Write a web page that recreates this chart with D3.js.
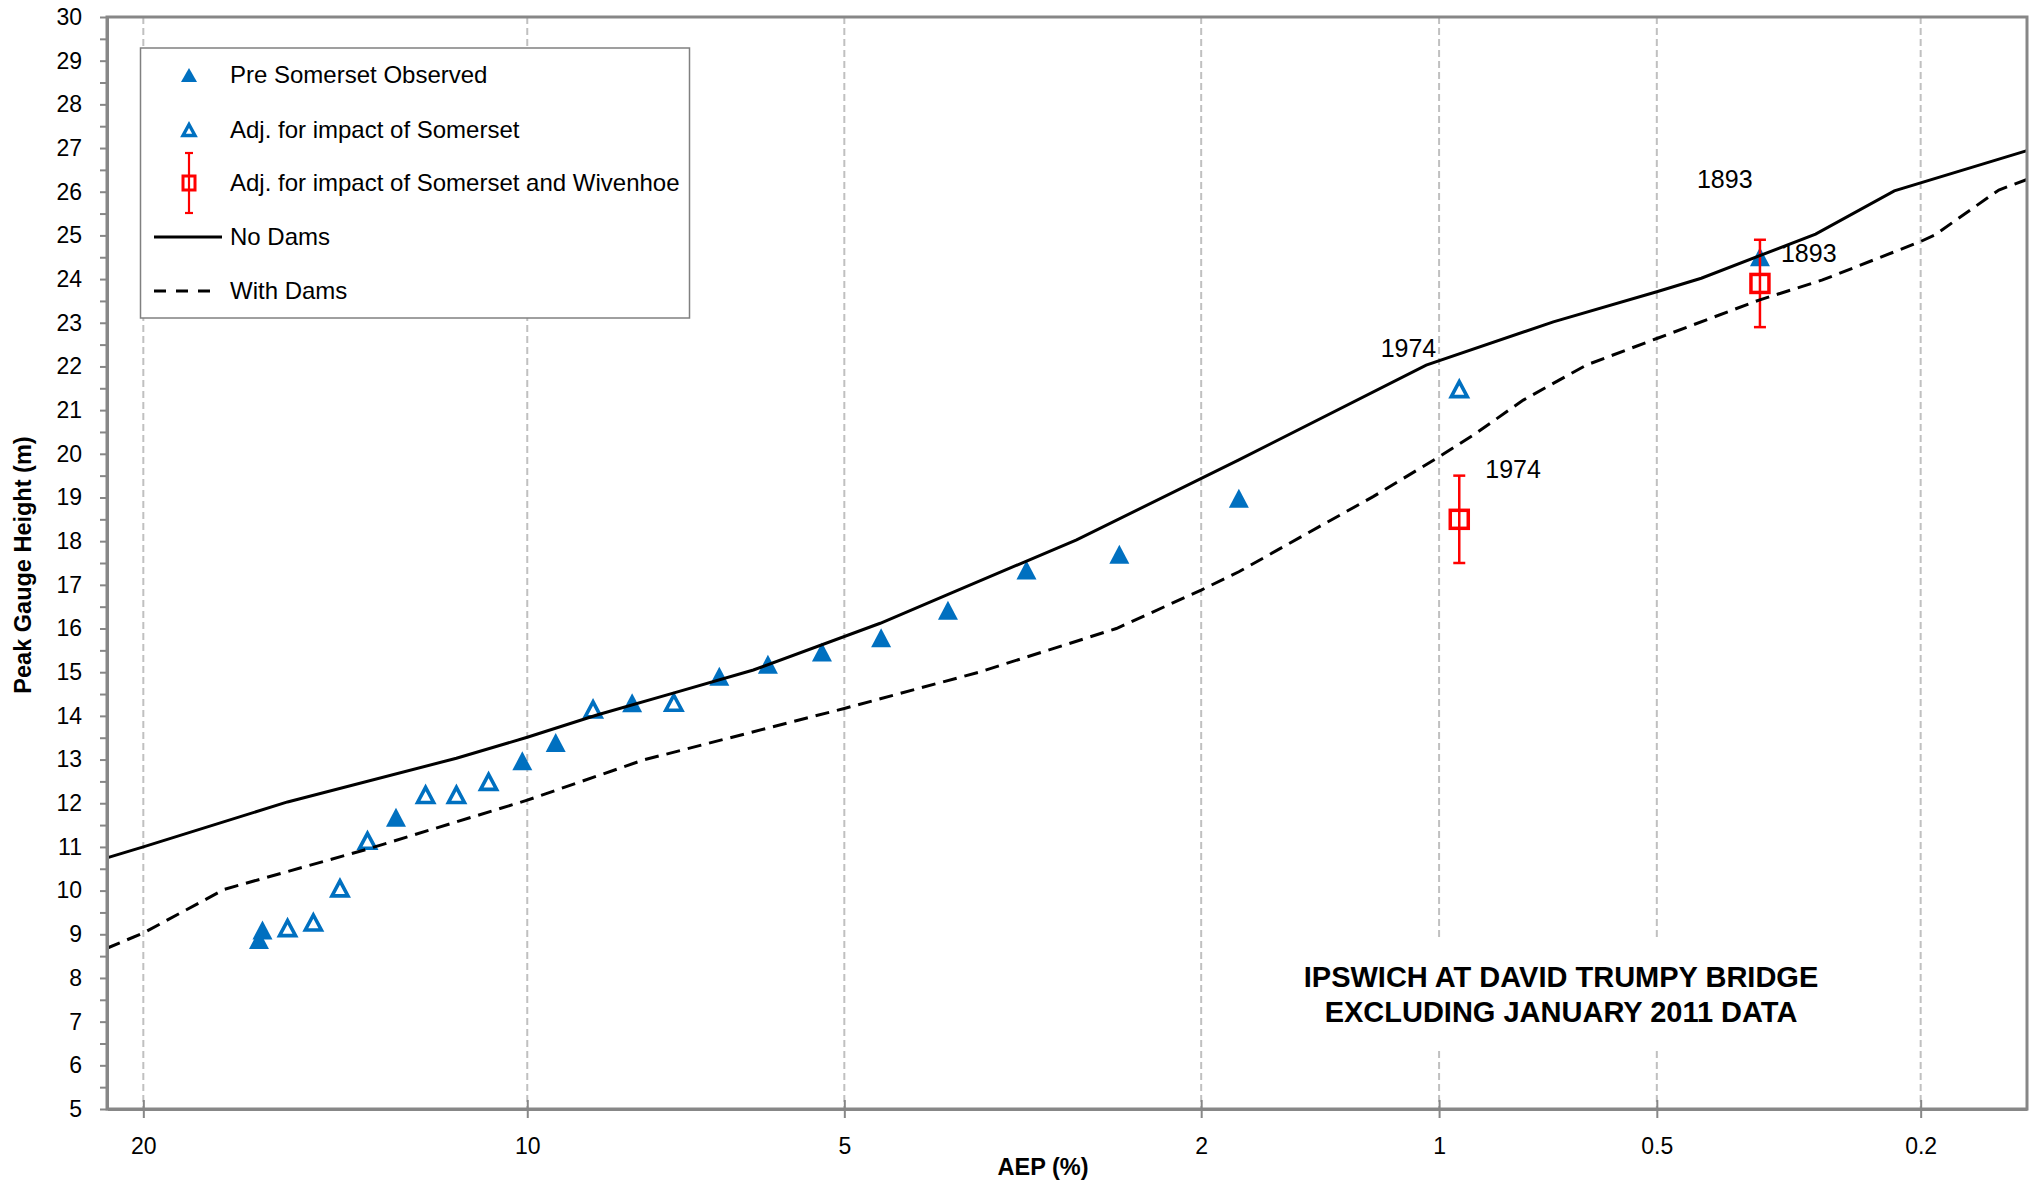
<!DOCTYPE html>
<html>
<head>
<meta charset="utf-8">
<script src="https://cdn.jsdelivr.net/npm/d3@7"></script>
<style>
  body { margin: 0; background: #fff; }
  svg { display: block; font-family: "Liberation Sans", Arial, sans-serif; }
</style>
</head>
<body>
<svg id="chart" width="2040" height="1186"></svg>
<script>
// ---------------- data (AEP in %, height in m)
const noDamsAep    = [21.19, 20, 15.7, 11.5, 10, 8.67, 7.37, 6.17, 4.59, 3.9, 2.8, 1.8, 1.04, 0.7, 0.5, 0.431, 0.291, 0.22, 0.135];
const noDamsHeight = [10.75, 11.0, 12.03, 13.03, 13.51, 14.02, 14.52, 15.05, 16.12, 16.77, 18.03, 19.86, 22.03, 23.02, 23.71, 24.02, 25.03, 26.02, 26.94];

const withDamsAep    = [21.19, 20, 17.5, 13.6, 10, 7.86, 5, 3.6, 2.52, 2.0, 1.8, 1.48, 1.22, 1.0, 0.9, 0.77, 0.63, 0.5, 0.354, 0.284, 0.2, 0.19, 0.15, 0.135];
const withDamsHeight = [8.68, 9.03, 10.03, 10.95, 12.07, 12.99, 14.17, 15.0, 16.0, 16.88, 17.3, 18.18, 19.02, 19.93, 20.43, 21.23, 22.03, 22.64, 23.52, 23.98, 24.86, 25.01, 26.04, 26.28];

const observedAep    = [16.5, 16.4, 12.9, 10.1, 9.44, 8.05, 6.66, 5.97, 5.27, 4.58, 3.89, 3.19, 2.5, 1.8, 0.353];
const observedHeight = [8.88, 9.10, 11.68, 12.97, 13.39, 14.30, 14.91, 15.18, 15.46, 15.79, 16.42, 17.34, 17.70, 18.98, 24.51];

const adjSomersetAep    = [15.7, 15.0, 14.3, 13.6, 12.2, 11.5, 10.8, 8.74, 7.36, 0.94];
const adjSomersetHeight = [9.14, 9.27, 10.05, 11.14, 12.19, 12.19, 12.49, 14.15, 14.30, 21.48];

const adjBothAep    = [0.94, 0.353];
const adjBothHeight = [18.5, 23.9];
const adjBothLow    = [17.5, 22.9];
const adjBothHigh   = [19.5, 24.9];

const yearLabels = ["1974", "1974", "1893", "1893"];
const yearLabelAep = [0.94, 0.94, 0.353, 0.353];
const yearLabelHeight = [22.22, 19.45, 26.08, 24.38];

const xTickValues = [20, 10, 5, 2, 1, 0.5, 0.2];
const yTickValues = d3.range(5, 30.01, 0.5);

const legendLabels = ["Pre Somerset Observed", "Adj. for impact of Somerset", "Adj. for impact of Somerset and Wivenhoe", "No Dams", "With Dams"];
const noteLines = ["IPSWICH AT DAVID TRUMPY BRIDGE", "EXCLUDING JANUARY 2011 DATA"];

// ---------------- normal probability transform (Acklam inverse normal)
const probit = p => {
  const a = [-3.969683028665376e+01, 2.209460984245205e+02, -2.759285104469687e+02, 1.383577518672690e+02, -3.066479806614716e+01, 2.506628277459239e+00];
  const b = [-5.447609879822406e+01, 1.615858368580409e+02, -1.556989798598866e+02, 6.680131188771972e+01, -1.328068155288572e+01];
  const c = [-7.784894002430293e-03, -3.223964580411365e-01, -2.400758277161838e+00, -2.549732539343734e+00, 4.374664141464968e+00, 2.938163982698783e+00];
  const d = [7.784695709041462e-03, 3.224671290700398e-01, 2.445134137142996e+00, 3.754408661907416e+00];
  const pl = 0.02425;
  let q, r;
  if (p < pl) {
    q = Math.sqrt(-2 * Math.log(p));
    return (((((c[0]*q+c[1])*q+c[2])*q+c[3])*q+c[4])*q+c[5]) / ((((d[0]*q+d[1])*q+d[2])*q+d[3])*q+1);
  }
  if (p <= 1 - pl) {
    q = p - 0.5; r = q * q;
    return (((((a[0]*r+a[1])*r+a[2])*r+a[3])*r+a[4])*r+a[5])*q / (((((b[0]*r+b[1])*r+b[2])*r+b[3])*r+b[4])*r+1);
  }
  q = Math.sqrt(-2 * Math.log(1 - p));
  return -(((((c[0]*q+c[1])*q+c[2])*q+c[3])*q+c[4])*q+c[5]) / ((((d[0]*q+d[1])*q+d[2])*q+d[3])*q+1);
};
const zOf = aep => -probit(aep / 100);

// ---------------- layout
const plot = { left: 107, right: 2027, top: 17, bottom: 1109 };
const blue = "#0070C0", red = "#FF0000", axisGrey = "#878787";

const x = d3.scaleLinear().domain([0.8, 3.0]).range([plot.left, plot.right]);
const y = d3.scaleLinear().domain([5, 30]).range([plot.bottom, plot.top]);
const xA = aep => x(zOf(aep));

const svg = d3.select("#chart");
svg.append("rect").attr("width", 2040).attr("height", 1186).attr("fill", "#fff");

const tri = (w, h) => `M0,${-h/2}L${w/2},${h/2}L${-w/2},${h/2}Z`;

// gridlines
svg.append("g").selectAll("line").data(xTickValues).join("line")
  .attr("x1", d => xA(d)).attr("x2", d => xA(d))
  .attr("y1", plot.top).attr("y2", plot.bottom)
  .attr("stroke", "#c0c0c0").attr("stroke-width", 2).attr("stroke-dasharray", "7,4");

// note box (hides gridlines behind text)
svg.append("rect").attr("x", 1290).attr("y", 940).attr("width", 542).attr("height", 108).attr("fill", "#fff");
svg.append("g").selectAll("text").data(noteLines).join("text")
  .attr("x", 1561).attr("y", (d, i) => 987 + i * 35)
  .attr("text-anchor", "middle").attr("font-size", 29).attr("font-weight", "bold")
  .text(d => d);

// markers
const zip = (a, b) => a.map((v, i) => [v, b[i]]);

svg.append("g").selectAll("path").data(zip(observedAep, observedHeight)).join("path")
  .attr("d", tri(20, 19))
  .attr("transform", d => `translate(${xA(d[0])},${y(d[1])})`)
  .attr("fill", blue);

svg.append("g").selectAll("path").data(zip(adjSomersetAep, adjSomersetHeight)).join("path")
  .attr("d", tri(16, 15))
  .attr("transform", d => `translate(${xA(d[0])},${y(d[1])})`)
  .attr("fill", "#fff").attr("stroke", blue).attr("stroke-width", 3.6);

const both = adjBothAep.map((a, i) => ({ a, h: adjBothHeight[i], lo: adjBothLow[i], hi: adjBothHigh[i] }));
const bothG = svg.append("g").selectAll("g").data(both).join("g")
  .attr("transform", d => `translate(${xA(d.a)},0)`)
  .attr("stroke", red).attr("fill", "none");
bothG.append("line").attr("y1", d => y(d.lo)).attr("y2", d => y(d.hi)).attr("stroke-width", 2.5);
bothG.append("line").attr("x1", -6).attr("x2", 6).attr("y1", d => y(d.lo)).attr("y2", d => y(d.lo)).attr("stroke-width", 2.5);
bothG.append("line").attr("x1", -6).attr("x2", 6).attr("y1", d => y(d.hi)).attr("y2", d => y(d.hi)).attr("stroke-width", 2.5);
bothG.append("rect").attr("x", -9).attr("width", 18).attr("height", 18)
  .attr("y", d => y(d.h) - 9).attr("stroke-width", 3.5);

// curves
const line = d3.line().x(d => xA(d[0])).y(d => y(d[1]));
svg.append("path").datum(zip(noDamsAep, noDamsHeight))
  .attr("d", line).attr("fill", "none").attr("stroke", "#000").attr("stroke-width", 3);
svg.append("path").datum(zip(withDamsAep, withDamsHeight))
  .attr("d", line).attr("fill", "none").attr("stroke", "#000").attr("stroke-width", 3)
  .attr("stroke-dasharray", "14,8");

// year labels
const labelDx = [-23, 26, -63, 21];
const labelAnchor = ["end", "start", "start", "start"];
svg.append("g").selectAll("text").data(yearLabels).join("text")
  .attr("x", (d, i) => xA(yearLabelAep[i]) + labelDx[i])
  .attr("y", (d, i) => y(yearLabelHeight[i]))
  .attr("text-anchor", (d, i) => labelAnchor[i])
  .attr("font-size", 25)
  .text(d => d);

// frame
svg.append("rect")
  .attr("x", plot.left).attr("y", plot.top)
  .attr("width", plot.right - plot.left).attr("height", plot.bottom - plot.top)
  .attr("fill", "none").attr("stroke", axisGrey).attr("stroke-width", 3);

// y axis
const yAxis = svg.append("g")
  .attr("transform", `translate(${plot.left},0)`)
  .call(d3.axisLeft(y).tickValues(yTickValues).tickSizeInner(7).tickSizeOuter(0).tickPadding(18)
    .tickFormat(d => Number.isInteger(d) ? d : ""));
yAxis.select(".domain").attr("stroke", axisGrey).attr("stroke-width", 3);
yAxis.selectAll(".tick line").attr("stroke", axisGrey).attr("stroke-width", 2);
yAxis.selectAll(".tick text").attr("font-size", 23).attr("fill", "#000").attr("font-family", null);

// x axis
const xAxis = svg.append("g")
  .attr("transform", `translate(0,${plot.bottom})`)
  .call(d3.axisBottom(x).tickValues(xTickValues.map(zOf)).tickSizeInner(9).tickSizeOuter(0).tickPadding(20)
    .tickFormat((d, i) => xTickValues[i]));
xAxis.select(".domain").attr("stroke", axisGrey).attr("stroke-width", 3);
xAxis.selectAll(".tick line").attr("y1", -9).attr("stroke", axisGrey).attr("stroke-width", 2);
xAxis.selectAll(".tick text").attr("font-size", 23).attr("fill", "#000").attr("font-family", null);

// axis titles
svg.append("text").attr("x", 1043).attr("y", 1175)
  .attr("text-anchor", "middle").attr("font-size", 23.5).attr("font-weight", "bold")
  .text("AEP (%)");
svg.append("text").attr("transform", "translate(31,565) rotate(-90)")
  .attr("text-anchor", "middle").attr("font-size", 23.5).attr("font-weight", "bold")
  .text("Peak Gauge Height (m)");

// legend
const legend = svg.append("g");
legend.append("rect").attr("x", 140.5).attr("y", 48).attr("width", 549).attr("height", 270)
  .attr("fill", "#fff").attr("stroke", "#808080").attr("stroke-width", 1.5);
const rowY = [75, 130, 183, 237, 291];
const mx = 189;
legend.append("path").attr("d", tri(16, 14)).attr("transform", `translate(${mx},${rowY[0]})`).attr("fill", blue);
legend.append("path").attr("d", tri(12, 11)).attr("transform", `translate(${mx},${rowY[1]})`)
  .attr("fill", "#fff").attr("stroke", blue).attr("stroke-width", 3.4);
const lg = legend.append("g").attr("stroke", red).attr("fill", "none").attr("stroke-width", 2.2);
lg.append("line").attr("x1", mx).attr("x2", mx).attr("y1", rowY[2] - 30).attr("y2", rowY[2] + 30);
lg.append("line").attr("x1", mx - 4).attr("x2", mx + 4).attr("y1", rowY[2] - 30).attr("y2", rowY[2] - 30);
lg.append("line").attr("x1", mx - 4).attr("x2", mx + 4).attr("y1", rowY[2] + 30).attr("y2", rowY[2] + 30);
lg.append("rect").attr("x", mx - 6).attr("y", rowY[2] - 7).attr("width", 12).attr("height", 14).attr("stroke-width", 3);
legend.append("line").attr("x1", 154).attr("x2", 222).attr("y1", rowY[3]).attr("y2", rowY[3])
  .attr("stroke", "#000").attr("stroke-width", 3);
legend.append("line").attr("x1", 154).attr("x2", 212).attr("y1", rowY[4]).attr("y2", rowY[4])
  .attr("stroke", "#000").attr("stroke-width", 3).attr("stroke-dasharray", "12,10");
legend.selectAll("text.lbl").data(legendLabels).join("text").attr("class", "lbl")
  .attr("x", 230).attr("y", (d, i) => rowY[i]).attr("dy", "0.35em")
  .attr("font-size", 24).text(d => d);
</script>
</body>
</html>
